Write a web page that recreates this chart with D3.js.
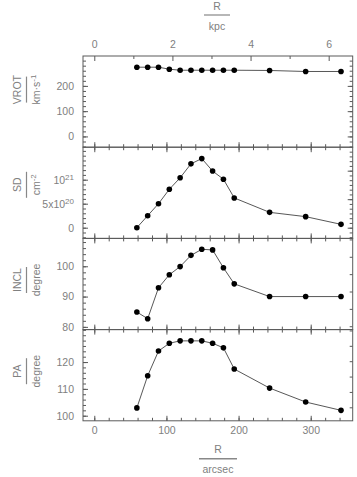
<!DOCTYPE html>
<html><head><meta charset="utf-8">
<script src="https://cdn.jsdelivr.net/npm/d3@7"></script>
<style>body{margin:0;background:#fff}svg{display:block}text{font-family:"Liberation Sans",Arial,sans-serif}</style>
</head><body><svg id="c" width="357" height="477"></svg>
<script>
const radius = [59, 74, 89, 104, 119, 134, 149, 164, 179, 194, 243, 293, 342];
const vrot = [274, 274, 274, 266, 262, 262, 262, 262, 262, 262, 261, 257, 257];
const sd = [0, 2.5e20, 5.0e20, 8.0e20, 10.4e20, 13.3e20, 14.4e20, 11.8e20, 10.1e20, 6.2e20, 3.2e20, 2.3e20, 0.7e20];
const incl = [84.9, 82.7, 92.9, 97.2, 99.9, 103.6, 105.6, 105.4, 99.5, 94.2, 90, 90, 90];
const pa = [102.9, 114.9, 124.1, 127, 127.9, 127.9, 127.9, 127, 125.3, 117.4, 110.3, 105.1, 102];
const arcsecTicks = [0, 100, 200, 300];
const kpcTicks = [0, 2, 4, 6];
const arcsecPerKpc = 54.15;

const svg = d3.select("#c");
const TXT = "#808080", FR = "#5a5a5a";
const L = 83, Rt = 352.7, TOP = 56, PH = 91.2;
const x = d3.scaleLinear().domain([-15.65, 358.2]).range([L, Rt]);
const xk = d3.scaleLinear().domain(x.domain().map(v => v / arcsecPerKpc)).range([L, Rt]);

const panels = [
  {name:"VROT", unit:[["km·s",""],["-1","sup"]], data:vrot, dom:[-42.6, 318.3], major:[0,100,200], minorStep:20, lab:-12,
   right:{f:v=>v, major:[0,100,200], minorStep:20}},
  {name:"SD", unit:[["cm",""],["-2","sup"]], data:sd, dom:[-2.23e20, 16.77e20], major:[0,5e20,1e21], minorStep:1e20, lab:-8,
   fmt:[ [["0",""]], [["5x10",""],["20","sup"]], [["10",""],["21","sup"]] ],
   right:{f:v=>v/0.99e20, major:[0,6,12], minorStep:1}},
  {name:"INCL", unit:[["degree",""]], data:incl, dom:[79.1, 109.2], major:[80,90,100], minorStep:2, lab:-4,
   right:{f:v=>v*Math.PI/180, major:[], minorStep:0.1}},
  {name:"PA", unit:[["degree",""]], data:pa, dom:[98.1, 132.1], major:[100,110,120], minorStep:2, lab:-4,
   right:{f:v=>v*Math.PI/180, major:[], minorStep:0.1}}
];

function stepTicks(dom, step){ const a=[]; const s=Math.ceil(dom[0]/step-1e-9); const e=Math.floor(dom[1]/step+1e-9); for(let i=s;i<=e;i++) a.push(+(i*step).toPrecision(12)); return a; }
function clean(a){ a.select(".domain").remove(); a.selectAll("line").attr("stroke",FR); }

panels.forEach((p, i) => {
  const top = TOP + i*PH, bot = top + PH;
  const y = d3.scaleLinear().domain(p.dom).range([bot, top]);
  const g = svg.append("g");
  g.append("rect").attr("x", L).attr("y", top).attr("width", Rt-L).attr("height", PH)
    .attr("fill","none").attr("stroke",FR).attr("stroke-width",1);
  const minorL = stepTicks(p.dom, p.minorStep);
  g.append("g").attr("transform",`translate(${L},0)`)
    .call(d3.axisLeft(y).tickValues(minorL).tickSize(-3).tickFormat("")).call(clean);
  const ax = g.append("g").attr("transform",`translate(${L},0)`)
    .call(d3.axisLeft(y).tickValues(p.major).tickSize(-5).tickPadding(9).tickFormat(d=>String(d))).call(clean);
  ax.selectAll("text").attr("fill",TXT).attr("font-size",10.5).attr("font-family",'"Liberation Sans",Arial,sans-serif');
  if (p.fmt) {
    ax.selectAll("text").each(function(d,j){
      const t = d3.select(this).text("");
      p.fmt[j].forEach(([s,k])=>{ const ts=t.append("tspan").text(s); if(k==="sup") ts.attr("dy",-4).attr("font-size",8); });
    });
  }
  const ry = d3.scaleLinear().domain(p.dom.map(p.right.f)).range([bot, top]);
  const rMinor = stepTicks(ry.domain(), p.right.minorStep);
  g.append("g").attr("transform",`translate(${Rt},0)`)
    .call(d3.axisRight(ry).tickValues(rMinor).tickSize(-3).tickFormat("")).call(clean);
  if (p.right.major.length) g.append("g").attr("transform",`translate(${Rt},0)`)
    .call(d3.axisRight(ry).tickValues(p.right.major).tickSize(-5).tickFormat("")).call(clean);
  const xMinor = stepTicks([0, 358], 20);
  g.append("g").attr("transform",`translate(0,${bot})`)
    .call(d3.axisBottom(x).tickValues(xMinor).tickSize(-3).tickFormat("")).call(clean);
  g.append("g").attr("transform",`translate(0,${bot})`)
    .call(d3.axisBottom(x).tickValues(arcsecTicks).tickSize(-5).tickFormat("")).call(clean);
  if (i === 0) {
    g.append("g").attr("transform",`translate(0,${top})`)
      .call(d3.axisTop(xk).tickValues([1,3,5]).tickSize(-3).tickFormat("")).call(clean);
    const tk = g.append("g").attr("transform",`translate(0,${top})`)
      .call(d3.axisTop(xk).tickValues(kpcTicks).tickSize(-5).tickPadding(8).tickFormat(d=>String(d))).call(clean);
    tk.selectAll("text").attr("fill",TXT).attr("font-size",10.5);
  } else {
    g.append("g").attr("transform",`translate(0,${top})`)
      .call(d3.axisTop(x).tickValues(xMinor).tickSize(-3).tickFormat("")).call(clean);
    g.append("g").attr("transform",`translate(0,${top})`)
      .call(d3.axisTop(x).tickValues(arcsecTicks).tickSize(-5).tickFormat("")).call(clean);
  }
  if (i === panels.length-1) {
    const bx = g.append("g").attr("transform",`translate(0,${bot})`)
      .call(d3.axisBottom(x).tickValues(arcsecTicks).tickSize(0).tickPadding(6).tickFormat(d=>String(d)))
      .call(a=>a.select(".domain").remove());
    bx.selectAll("text").attr("fill",TXT).attr("font-size",10.5);
  }
  const pts = radius.map((r,k)=>[r,p.data[k]]);
  g.append("path").datum(pts).attr("fill","none").attr("stroke","#444").attr("stroke-width",0.9)
    .attr("d", d3.line().x(d=>x(d[0])).y(d=>y(d[1])));
  g.selectAll("circle.pt").data(pts).join("circle").attr("class","pt")
    .attr("cx",d=>x(d[0])).attr("cy",d=>y(d[1])).attr("r",2.8).attr("fill","#000");
  const cy = (top+bot)/2 + p.lab;
  const lab = g.append("g").attr("transform",`translate(0,${cy}) rotate(-90)`);
  lab.append("text").attr("x",0).attr("y",21).attr("text-anchor","middle").attr("fill",TXT).attr("font-size",10.5).text(p.name);
  lab.append("line").attr("x1",-13).attr("x2",13).attr("y1",26.5).attr("y2",26.5).attr("stroke","#888").attr("stroke-width",1.2);
  const ut = lab.append("text").attr("x",0).attr("y",40).attr("text-anchor","middle").attr("fill",TXT).attr("font-size",10.5);
  p.unit.forEach(([s,k])=>{ const ts=ut.append("tspan").text(s); if(k==="sup") ts.attr("dy",-4).attr("font-size",8); });
});

const cx = 217;
svg.append("text").attr("x",cx).attr("y",10).attr("text-anchor","middle").attr("fill",TXT).attr("font-size",10.5).text("R");
svg.append("line").attr("x1",cx-13).attr("x2",cx+13).attr("y1",15).attr("y2",15).attr("stroke","#888").attr("stroke-width",1.2);
svg.append("text").attr("x",cx).attr("y",30).attr("text-anchor","middle").attr("fill",TXT).attr("font-size",10.5).text("kpc");
const bxc = 218;
svg.append("text").attr("x",bxc).attr("y",453).attr("text-anchor","middle").attr("fill",TXT).attr("font-size",10.5).text("R");
svg.append("line").attr("x1",bxc-19).attr("x2",bxc+19).attr("y1",458.7).attr("y2",458.7).attr("stroke","#888").attr("stroke-width",1.5);
svg.append("text").attr("x",bxc).attr("y",473).attr("text-anchor","middle").attr("fill",TXT).attr("font-size",10.5).text("arcsec");
</script></body></html>
